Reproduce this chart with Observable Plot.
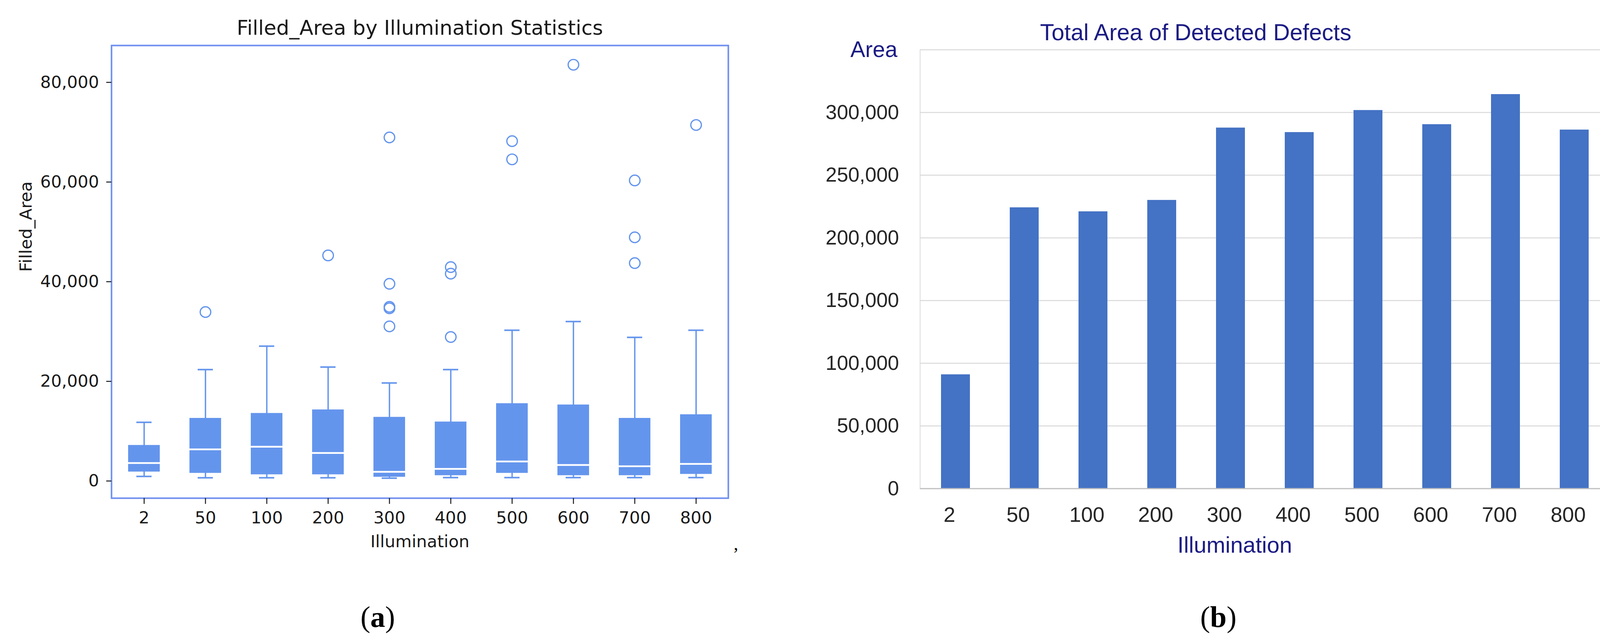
<!DOCTYPE html>
<html>
<head>
<meta charset="utf-8">
<script src="https://cdn.jsdelivr.net/npm/d3@7"></script>
<script src="https://cdn.jsdelivr.net/npm/@observablehq/plot@0.6"></script>
<style>
  html, body { margin: 0; padding: 0; background: #fff; }
  #fig { position: relative; width: 4164px; height: 1636px; background: #fff; overflow: hidden; }
  #fig svg { position: absolute; top: 0; }
  .cap { position: absolute; font-family: "Liberation Serif", "DejaVu Serif", serif; color: #000; white-space: nowrap; line-height: 1; }
</style>
</head>
<body>
<div id="fig"></div>
<script>
// ---------- data ----------
const illumination = ["2", "50", "100", "200", "300", "400", "500", "600", "700", "800"];

// (a) box-plot summary of Filled_Area per illumination level
const whiskerLow  = [915, 650, 650, 650, 560, 680, 680, 680, 680, 680];
const quartile1   = [1850, 1590, 1300, 1300, 810, 1120, 1590, 1120, 1120, 1380];
const medianArea  = [3600, 6350, 6870, 5620, 1850, 2430, 3920, 3210, 2950, 3420];
const quartile3   = [7190, 12620, 13610, 14320, 12830, 11890, 15570, 15310, 12620, 13350];
const whiskerHigh = [11780, 22360, 27060, 22860, 19670, 22360, 30250, 32000, 28820, 30250];

const outlierIllumination = ["50", "200", "300", "300", "300", "300", "300", "400", "400", "400", "500", "500", "600", "700", "700", "700", "800"];
const outlierArea = [33910, 45270, 68950, 39580, 34950, 34650, 31030, 42920, 41610, 28900, 68210, 64550, 83540, 60320, 48900, 43730, 71450];

const boxTicks = [0, 20000, 40000, 60000, 80000];

// (b) total area of detected defects per illumination level
const totalArea = [91000, 224200, 221000, 230100, 287800, 284200, 301800, 290500, 314500, 286200];
const barTicks = [0, 50000, 100000, 150000, 200000, 250000, 300000];
const barGrid = [50000, 100000, 150000, 200000, 250000, 300000, 350000];

// ---------- tables ----------
const boxes = illumination.map((k, i) => ({
  k, lo: whiskerLow[i], q1: quartile1[i], med: medianArea[i], q3: quartile3[i], hi: whiskerHigh[i]
}));
const outliers = outlierIllumination.map((k, i) => ({k, v: outlierArea[i]}));
const totals = illumination.map((k, i) => ({k, v: totalArea[i]}));

const boxBlue = "#6495ED";
const navy = "#1b1b84";
const fmt = d3.format(",");

// ---------- (a) ----------
const left = Plot.plot({
  width: 2082, height: 1636,
  marginLeft: 285, marginRight: 218, marginTop: 116, marginBottom: 361,
  x: {type: "band", domain: illumination, padding: 0, align: 0.5},
  y: {domain: [-3450, 87400]},
  style: {fontFamily: "DejaVu Sans", color: "#1a1a1a", background: "transparent"},
  marks: [
    Plot.ruleX(boxes, {x: "k", y1: "lo", y2: "hi", stroke: boxBlue, strokeWidth: 3.5}),
    Plot.barY(boxes, {x: "k", y1: "q1", y2: "q3", fill: boxBlue, insetLeft: 38, insetRight: 38}),
    Plot.tickY(boxes, {x: "k", y: "med", stroke: "white", strokeWidth: 4.5, insetLeft: 38, insetRight: 38}),
    Plot.tickY(boxes, {x: "k", y: "lo", stroke: boxBlue, strokeWidth: 4, insetLeft: 59, insetRight: 59}),
    Plot.tickY(boxes, {x: "k", y: "hi", stroke: boxBlue, strokeWidth: 4, insetLeft: 59, insetRight: 59}),
    Plot.dot(outliers, {x: "k", y: "v", r: 13.5, stroke: boxBlue, strokeWidth: 3.2, fill: "none"}),
    Plot.frame({stroke: "#6f8ff0", strokeWidth: 4}),
    Plot.axisY(boxTicks, {tickSize: 13, tickPadding: 19, tickFormat: fmt, label: null, fontSize: 43, strokeWidth: 2.5}),
    Plot.axisX({tickSize: 15, tickPadding: 19, label: null, fontSize: 43, strokeWidth: 2.5}),
    Plot.text(["Filled_Area by Illumination Statistics"], {frameAnchor: "top", dy: -28, lineAnchor: "bottom", fontSize: 52, fill: "#1a1a1a"}),
    Plot.text(["Illumination"], {frameAnchor: "bottom", dy: 125, lineAnchor: "bottom", fontSize: 43, fill: "#1a1a1a"}),
    Plot.text(["Filled_Area"], {frameAnchor: "left", dx: -218, rotate: -90, lineAnchor: "middle", fontSize: 43, fill: "#1a1a1a"})
  ]
});
left.style.left = "0px";

// ---------- (b) ----------
const right = Plot.plot({
  width: 2082, height: 1636,
  marginLeft: 273, marginRight: 44, marginTop: 127, marginBottom: 385.5,
  x: {type: "band", domain: illumination, paddingInner: 0.58, paddingOuter: 0.29, align: 0.5},
  y: {domain: [0, 350000]},
  style: {fontFamily: "Liberation Sans", color: "#262626", background: "transparent"},
  marks: [
    Plot.ruleY(barGrid, {stroke: "#d9d9d9", strokeWidth: 2.5}),
    Plot.frame({anchor: "left", stroke: "#d9d9d9", strokeWidth: 2}),
    Plot.barY(totals, {x: "k", y: "v", fill: "#4472C4"}),
    Plot.ruleY([0], {stroke: "#bfbfbf", strokeWidth: 3}),
    Plot.axisY(barTicks, {tickSize: 0, tickPadding: 54, tickFormat: fmt, label: null, fontSize: 52}),
    Plot.axisX({tickSize: 0, tickPadding: 47, label: null, fontSize: 54, dx: -16}),
    Plot.text(["Total Area of Detected Defects"], {frameAnchor: "top", dx: -177, dy: -25, lineAnchor: "bottom", fontSize: 59, fill: navy}),
    Plot.text([350000], {y: d => d, text: () => "Area", frameAnchor: "left", textAnchor: "end", dx: -58, lineAnchor: "middle", fontSize: 57, fill: navy}),
    Plot.text(["Illumination"], {frameAnchor: "bottom", dx: -77, dy: 164, lineAnchor: "bottom", fontSize: 58, fill: navy})
  ]
});
right.style.left = "2082px";

const fig = document.getElementById("fig");
fig.appendChild(left);
fig.appendChild(right);

function addCap(html, cx, top, size) {
  const d = document.createElement("div");
  d.className = "cap";
  d.innerHTML = html;
  d.style.fontSize = size + "px";
  d.style.top = top + "px";
  d.style.left = cx + "px";
  d.style.transform = "translateX(-50%)";
  fig.appendChild(d);
}
addCap("(<b>a</b>)", 967, 1541, 76);
addCap("(<b>b</b>)", 3119, 1541, 76);
addCap(",", 1884, 1370, 46);
</script>
</body>
</html>
